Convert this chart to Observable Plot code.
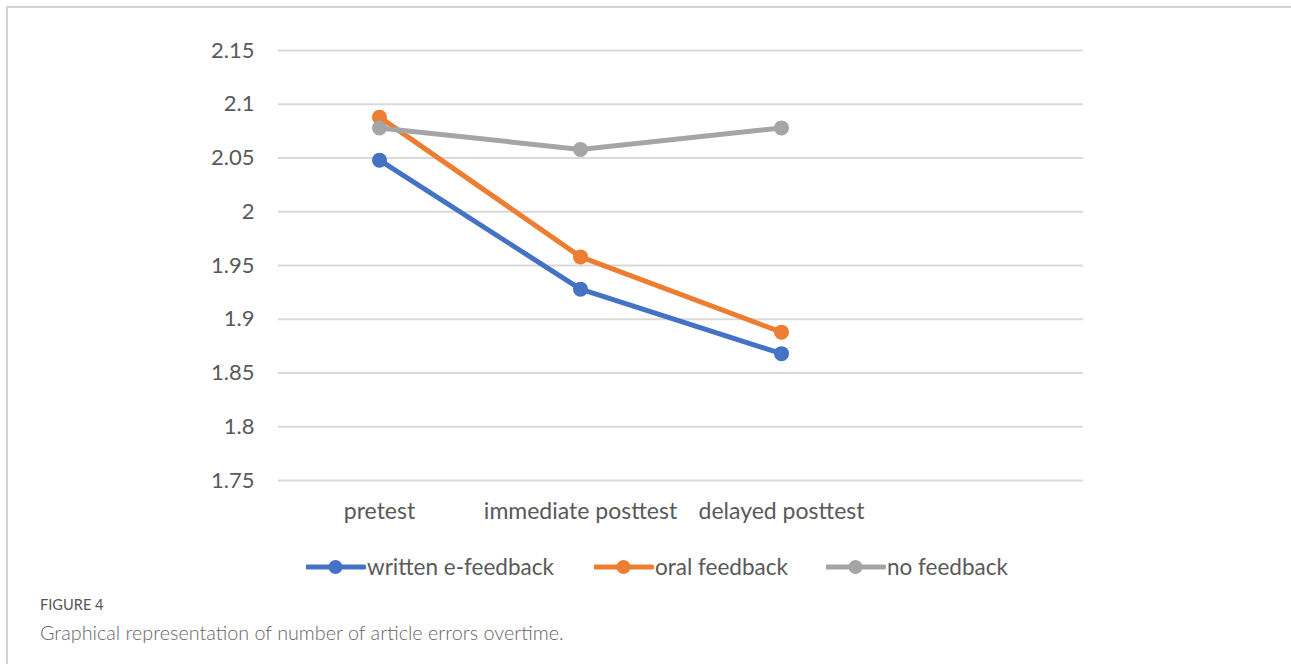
<!DOCTYPE html>
<html>
<head>
<meta charset="utf-8">
<script src="https://cdn.jsdelivr.net/npm/d3@7"></script>
<script src="https://cdn.jsdelivr.net/npm/@observablehq/plot@0.6"></script>
<style>
  html, body { margin: 0; padding: 0; background: #fff; }
  body { width: 1291px; height: 664px; position: relative; overflow: hidden; font-family: Lato, "Open Sans", sans-serif; }
  #frame { position: absolute; left: 6px; top: 6px; right: -10px; bottom: -10px; border-left: 2px solid #d2d2d2; border-top: 2px solid #d2d2d2; }
  #chart { position: absolute; left: 0; top: 0; }
  #legend { position: absolute; top: 553px; left: 0; width: 1291px; height: 26px; }
  .item { position: absolute; top: 0; display: flex; align-items: center; font-size: 22.5px; color: #595959; font-family: Lato, sans-serif; }
  .item svg { display: block; }
  #fig { position: absolute; left: 40px; top: 596px; font-size: 14.6px; color: #555; }
  #cap { position: absolute; left: 40px; top: 620px; font-size: 19.8px; color: #666; font-weight: 300; }
  .xax text { font-size: 23px; }
</style>
</head>
<body>
<div id="frame"></div>
<div id="chart"></div>
<div id="legend"></div>
<div id="fig">FIGURE 4</div>
<div id="cap">Graphical representation of number of article errors overtime.</div>
<script>
const categories = ["pretest", "immediate posttest", "delayed posttest", " "];
const seriesNames = ["written e-feedback", "oral feedback", "no feedback"];
const writtenValues = [2.048, 1.928, 1.868];
const oralValues = [2.088, 1.958, 1.888];
const noFeedbackValues = [2.078, 2.058, 2.078];
const yTicks = [1.75, 1.8, 1.85, 1.9, 1.95, 2, 2.05, 2.1, 2.15];
const colors = ["#4472C4", "#ED7D31", "#A5A5A5"];

const allValues = [writtenValues, oralValues, noFeedbackValues];
const data = [];
seriesNames.forEach((s, si) => {
  allValues[si].forEach((v, i) => data.push({series: s, category: categories[i], value: v}));
});
const chart = Plot.plot({
  width: 1291,
  height: 530,
  marginLeft: 278,
  marginRight: 208,
  marginTop: 50,
  marginBottom: 50,
  style: {fontFamily: "Lato, sans-serif", fontSize: "22px", color: "#595959", background: "transparent"},
  x: {type: "point", domain: categories, padding: 0.5, label: null, axis: null},
  y: {domain: [1.75, 2.15], ticks: yTicks, tickFormat: d => String(+d.toFixed(2)), label: null, tickSize: 0, tickPadding: 24},
  color: {domain: seriesNames, range: colors},
  marks: [
    Plot.ruleY(yTicks, {stroke: "#d9d9d9", strokeWidth: 2}),
    Plot.axisX({className: "xax", tickSize: 0, tickPadding: 22, label: null, fontSize: 23}),
    Plot.line(data, {x: "category", y: "value", z: "series", stroke: "series", strokeWidth: 5}),
    Plot.dot(data, {x: "category", y: "value", fill: "series", r: 7.5})
  ]
});
document.getElementById("chart").appendChild(chart);

const legend = document.getElementById("legend");
const legendX = [306, 594, 826];
seriesNames.forEach((s, i) => {
  const item = document.createElement("div");
  item.className = "item";
  item.style.left = legendX[i] + "px";
  item.innerHTML = `<svg width="60" height="26"><line x1="1" y1="13" x2="58" y2="13" stroke="${colors[i]}" stroke-width="5" stroke-linecap="round"/><circle cx="29.5" cy="13" r="7" fill="${colors[i]}"/></svg><span style="margin-left:1px">${s}</span>`;
  legend.appendChild(item);
});
</script>
</body>
</html>
